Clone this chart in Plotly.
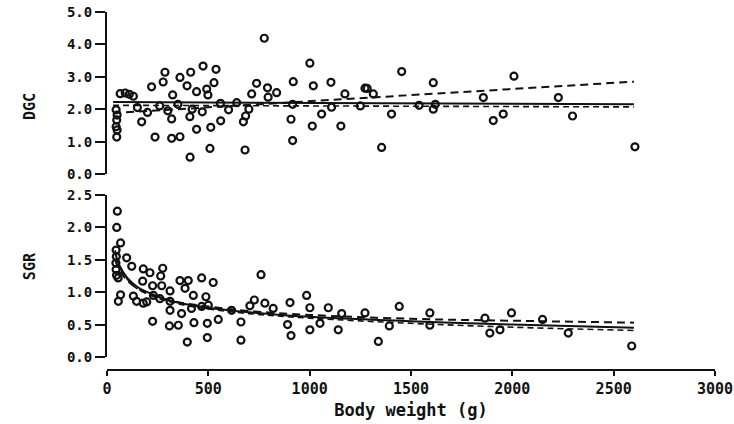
import plotly.graph_objects as go

# ---- Data ----
# Top panel: DGC scatter
dgc_w = [65, 90, 110, 130, 220, 286, 277, 360, 413, 474, 538, 395, 442, 492, 528, 498, 324,
         45, 50, 48, 45, 50, 48, 171, 319, 237, 319, 360, 442, 512, 561, 410, 508, 409,
         150, 200, 260, 300, 350, 420, 470, 560, 600, 640, 700,
         776, 1001, 738, 792, 837, 714, 795, 919, 1018, 1105, 1174, 1273,
         684, 673, 908, 1013, 1059, 1154, 916, 681, 916, 1108,
         1454, 2008, 1610, 1284, 1314, 1404, 1610, 1857, 1955, 1906, 2227, 2297, 1355, 2605,
         1540, 1620, 1250]
dgc_v = [2.48, 2.50, 2.46, 2.40, 2.69, 3.14, 2.84, 2.98, 3.14, 3.33, 3.23, 2.72, 2.54, 2.62, 2.82, 2.44, 2.44,
         1.98, 1.82, 1.67, 1.46, 1.36, 1.14, 1.61, 1.70, 1.14, 1.10, 1.15, 1.38, 1.44, 1.64, 0.52, 0.79, 1.77,
         2.05, 1.90, 2.10, 1.95, 2.15, 2.00, 1.92, 2.18, 1.98, 2.20, 2.00,
         4.19, 3.42, 2.80, 2.66, 2.51, 2.47, 2.37, 2.85, 2.72, 2.83, 2.47, 2.65,
         1.79, 1.61, 1.69, 1.48, 1.85, 1.48, 1.03, 0.74, 2.15, 2.06,
         3.16, 3.02, 2.82, 2.64, 2.47, 1.85, 2.00, 2.36, 1.85, 1.65, 2.36, 1.79, 0.82, 0.84,
         2.12, 2.15, 2.10]

# Top panel fitted lines
dgc_line_w = [30, 2600]
dgc_solid = [2.22, 2.15]
dgc_dash_up = [1.88, 2.85]
dgc_dash_low = [2.12, 2.07]

# Bottom panel: SGR scatter
sgr_w = [51, 48, 67, 45, 46, 44, 45, 47, 55, 97, 122, 179, 212, 275, 265, 360, 401, 467, 524, 385,
         176, 225, 270, 311, 426, 488, 67, 56, 130, 146, 179, 196, 229, 261, 311, 311, 368, 225,
         308, 352, 429, 495, 549, 396, 495, 417, 467, 500,
         760, 985, 727, 779, 705, 820, 903, 1001, 1092, 661, 891, 1001, 1141, 1051, 908, 661, 1158, 615,
         1442, 1593, 1996, 1273, 1339, 1393, 1593, 1889, 1939, 2149, 2276, 2589, 1865]
sgr_v = [2.25, 2.00, 1.76, 1.65, 1.55, 1.45, 1.35, 1.26, 1.22, 1.53, 1.40, 1.36, 1.30, 1.37, 1.25, 1.18, 1.18, 1.22, 1.15, 1.06,
         1.17, 1.10, 1.10, 1.02, 0.95, 0.93, 0.96, 0.86, 0.94, 0.86, 0.83, 0.85, 0.95, 0.90, 0.86, 0.72, 0.67, 0.55,
         0.48, 0.49, 0.53, 0.52, 0.58, 0.23, 0.30, 0.75, 0.78, 0.80,
         1.27, 0.95, 0.88, 0.83, 0.79, 0.75, 0.84, 0.76, 0.76, 0.54, 0.50, 0.42, 0.42, 0.52, 0.33, 0.26, 0.67, 0.72,
         0.78, 0.68, 0.68, 0.68, 0.24, 0.48, 0.49, 0.37, 0.42, 0.58, 0.37, 0.17, 0.60]

# Bottom panel fitted curves
sgr_line_w = [40, 60, 100, 150, 200, 300, 400, 500, 700, 1000, 1500, 2000, 2600]
sgr_solid = [1.62, 1.42, 1.22, 1.08, 1.00, 0.88, 0.81, 0.76, 0.69, 0.62, 0.55, 0.50, 0.45]
sgr_dash_up = [1.50, 1.35, 1.18, 1.06, 0.98, 0.88, 0.82, 0.78, 0.71, 0.65, 0.59, 0.56, 0.53]
sgr_dash_low = [1.65, 1.42, 1.20, 1.05, 0.97, 0.86, 0.79, 0.74, 0.67, 0.60, 0.52, 0.46, 0.41]

x_ticks = [0, 500, 1000, 1500, 2000, 2500, 3000]
dgc_ticks = [0.0, 1.0, 2.0, 3.0, 4.0, 5.0]
sgr_ticks = [0.0, 0.5, 1.0, 1.5, 2.0, 2.5]

FONT = "DejaVu Sans Mono"
BLACK = "#111111"

fig = go.Figure()

marker = dict(symbol="circle-open", size=7, color=BLACK, line=dict(width=2.2, color=BLACK))

fig.add_trace(go.Scatter(x=dgc_w, y=dgc_v, mode="markers", marker=marker,
                         xaxis="x2", yaxis="y2", showlegend=False))
fig.add_trace(go.Scatter(x=dgc_line_w, y=dgc_solid, mode="lines", line=dict(color=BLACK, width=2),
                         xaxis="x2", yaxis="y2", showlegend=False))
fig.add_trace(go.Scatter(x=dgc_line_w, y=dgc_dash_up, mode="lines",
                         line=dict(color=BLACK, width=2, dash="8px,5px"),
                         xaxis="x2", yaxis="y2", showlegend=False))
fig.add_trace(go.Scatter(x=dgc_line_w, y=dgc_dash_low, mode="lines",
                         line=dict(color=BLACK, width=1.6, dash="6px,4px"),
                         xaxis="x2", yaxis="y2", showlegend=False))

fig.add_trace(go.Scatter(x=sgr_w, y=sgr_v, mode="markers", marker=marker,
                         xaxis="x", yaxis="y", showlegend=False))
fig.add_trace(go.Scatter(x=sgr_line_w, y=sgr_solid, mode="lines", line=dict(color=BLACK, width=2, shape="spline"),
                         xaxis="x", yaxis="y", showlegend=False))
fig.add_trace(go.Scatter(x=sgr_line_w, y=sgr_dash_up, mode="lines",
                         line=dict(color=BLACK, width=2, dash="8px,5px", shape="spline"),
                         xaxis="x", yaxis="y", showlegend=False))
fig.add_trace(go.Scatter(x=sgr_line_w, y=sgr_dash_low, mode="lines",
                         line=dict(color=BLACK, width=1.6, dash="6px,4px", shape="spline"),
                         xaxis="x", yaxis="y", showlegend=False))

tickfont = dict(family=FONT, size=14, color=BLACK, weight="bold")

fig.update_layout(
    width=734, height=424,
    margin=dict(l=107, r=19, t=12, b=54, autoexpand=False),
    paper_bgcolor="white", plot_bgcolor="white",
    xaxis=dict(range=[0, 3000], anchor="free", position=0, domain=[0, 1], automargin=False,
               ticklabeloverflow="allow",
               tickvals=x_ticks, ticktext=[str(v) for v in x_ticks],
               ticks="outside", ticklen=5, tickwidth=2, tickcolor=BLACK,
               showline=True, linewidth=2, linecolor=BLACK, showgrid=False, zeroline=False,
               tickfont=dict(family=FONT, size=15, color=BLACK, weight="bold"),
               title=dict(text="Body weight (g)", standoff=6,
                          font=dict(family=FONT, size=17, color=BLACK, weight="bold"))),
    yaxis=dict(range=[0, 2.5], domain=[0.0363, 0.4888], anchor="x", automargin=False,
               ticklabeloverflow="allow",
               tickvals=sgr_ticks, ticktext=[f"{v:.1f}" for v in sgr_ticks],
               ticks="outside", ticklen=10, tickwidth=2, tickcolor=BLACK,
               showline=True, linewidth=2, linecolor=BLACK, showgrid=False, zeroline=False,
               tickfont=tickfont),
    xaxis2=dict(range=[0, 3000], anchor="y2", domain=[0, 1], visible=False, automargin=False),
    yaxis2=dict(range=[0, 5], domain=[0.5475, 1.0], anchor="x2", automargin=False,
                ticklabeloverflow="allow",
                tickvals=dgc_ticks, ticktext=[f"{v:.1f}" for v in dgc_ticks],
                ticks="outside", ticklen=10, tickwidth=2, tickcolor=BLACK,
                showline=True, linewidth=2, linecolor=BLACK, showgrid=False, zeroline=False,
                tickfont=tickfont),
    annotations=[
        dict(text="DGC", textangle=-90, xref="paper", yref="paper", x=-0.145, y=0.78,
             showarrow=False, font=dict(family=FONT, size=15, color=BLACK, weight="bold")),
        dict(text="SGR", textangle=-90, xref="paper", yref="paper", x=-0.145, y=0.245,
             showarrow=False, font=dict(family=FONT, size=15, color=BLACK, weight="bold")),
    ],
)

# Remove the browser's default 8px body margin so the figure sits at the window's corner.
fig.write_html("out.html", config={"displayModeBar": False},
               post_script="document.body.style.margin='0';")
